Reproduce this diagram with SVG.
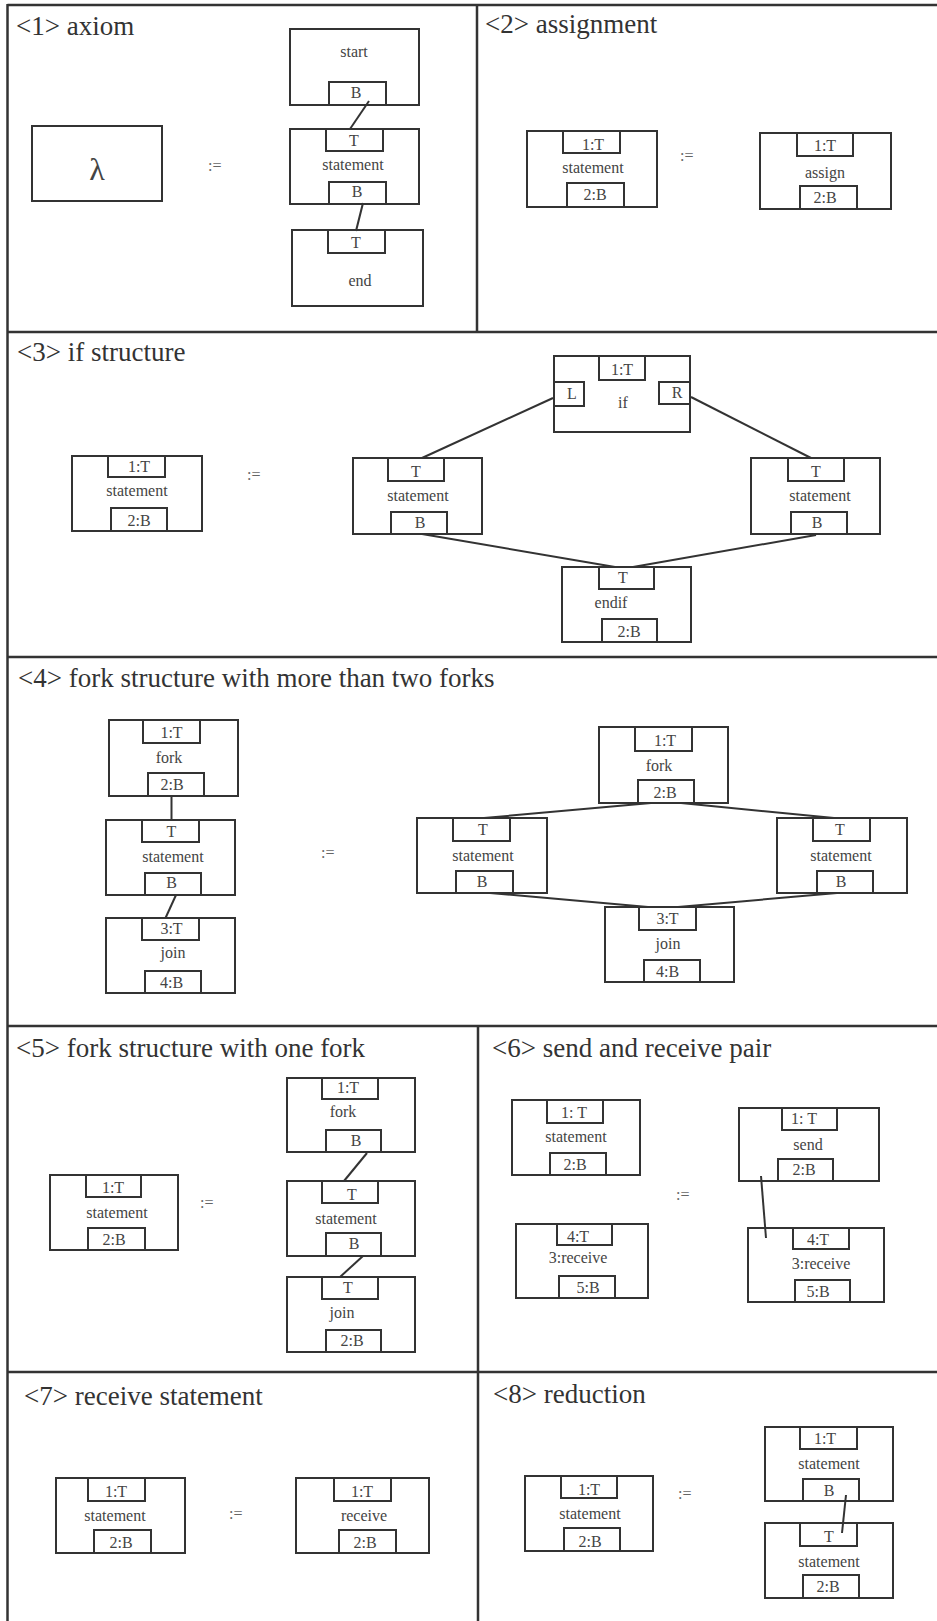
<svg xmlns="http://www.w3.org/2000/svg" width="937" height="1621" viewBox="0 0 937 1621">
<style>
.frame{stroke:#333;stroke-width:2.5;fill:none}
.box{fill:#fff;stroke:#333;stroke-width:2}
.port{fill:#fff;stroke:#333;stroke-width:2}
.lbl{font-family:"Liberation Serif","Times New Roman",serif;font-size:16px;fill:#444;text-anchor:middle}
.title{font-family:"Liberation Serif","Times New Roman",serif;font-size:27px;fill:#333}
.eq{font-family:"Liberation Serif","Times New Roman",serif;font-size:16px;fill:#666}
.conn{stroke:#333;stroke-width:2;fill:none}
</style>
<rect width="937" height="1621" fill="#fff"/>
<g id="frames">
<line class="frame" x1="7.5" y1="5" x2="937" y2="5"/>
<line class="frame" x1="7.5" y1="4" x2="7.5" y2="1621"/>
<line class="frame" x1="7.5" y1="332" x2="937" y2="332"/>
<line class="frame" x1="7.5" y1="657" x2="937" y2="657"/>
<line class="frame" x1="7.5" y1="1026" x2="937" y2="1026"/>
<line class="frame" x1="7.5" y1="1372" x2="937" y2="1372"/>
<line class="frame" x1="477" y1="5" x2="477" y2="332"/>
<line class="frame" x1="478" y1="1026" x2="478" y2="1621"/>
</g>
<g id="titles">
<text class="title" x="16" y="35">&lt;1&gt; axiom</text>
<text class="title" x="485" y="33">&lt;2&gt; assignment</text>
<text class="title" x="17" y="361">&lt;3&gt; if structure</text>
<text class="title" x="18" y="687">&lt;4&gt; fork structure with more than two forks</text>
<text class="title" x="16" y="1057">&lt;5&gt; fork structure with one fork</text>
<text class="title" x="492" y="1057">&lt;6&gt; send and receive pair</text>
<text class="title" x="24" y="1405">&lt;7&gt; receive statement</text>
<text class="title" x="493" y="1403">&lt;8&gt; reduction</text>
</g>
<g id="equals">
<text class="eq" x="208" y="171">:=</text>
<text class="eq" x="680" y="161">:=</text>
<text class="eq" x="247" y="480">:=</text>
<text class="eq" x="321" y="858">:=</text>
<text class="eq" x="200" y="1208">:=</text>
<text class="eq" x="676" y="1200">:=</text>
<text class="eq" x="229" y="1519">:=</text>
<text class="eq" x="678" y="1499">:=</text>
</g>
<!-- Section 1 -->
<g id="s1-lambda"><rect class="box" x="32" y="126" width="130" height="75"/><text class="lbl" x="97" y="180" style="font-size:32px">λ</text></g>
<g id="s1-start"><rect class="box" x="290" y="29" width="129" height="76"/><text class="lbl" x="354" y="57">start</text><rect class="port" x="329" y="82" width="57" height="23"/><text class="lbl" x="356" y="98">B</text></g>
<g id="s1-statement"><rect class="box" x="290" y="129" width="129" height="75"/><rect class="port" x="326" y="129" width="57" height="22"/><text class="lbl" x="354" y="146">T</text><text class="lbl" x="353" y="170">statement</text><rect class="port" x="329" y="182" width="57" height="22"/><text class="lbl" x="357" y="197">B</text></g>
<g id="s1-end"><rect class="box" x="292" y="230" width="131" height="76"/><rect class="port" x="328" y="230" width="57" height="23"/><text class="lbl" x="356" y="248">T</text><text class="lbl" x="360" y="286">end</text></g>
<!-- Section 2 -->
<g id="s2-statement"><rect class="box" x="527" y="131" width="130" height="76"/><rect class="port" x="563" y="131" width="57" height="22"/><text class="lbl" x="593" y="150">1:T</text><text class="lbl" x="593" y="173">statement</text><rect class="port" x="567" y="183" width="57" height="24"/><text class="lbl" x="595" y="200">2:B</text></g>
<g id="s2-assign"><rect class="box" x="760" y="133" width="131" height="76"/><rect class="port" x="797" y="133" width="56" height="23"/><text class="lbl" x="825" y="151">1:T</text><text class="lbl" x="825" y="178">assign</text><rect class="port" x="800" y="186" width="57" height="23"/><text class="lbl" x="825" y="203">2:B</text></g>
<!-- Section 3 -->
<g id="s3-statement"><rect class="box" x="72" y="456" width="130" height="75"/><rect class="port" x="108" y="456" width="57" height="21"/><text class="lbl" x="139" y="472">1:T</text><text class="lbl" x="137" y="496">statement</text><rect class="port" x="111" y="508" width="56" height="23"/><text class="lbl" x="139" y="526">2:B</text></g>
<g id="s3-if"><rect class="box" x="554" y="356" width="136" height="76"/><rect class="port" x="599" y="356" width="46" height="24"/><text class="lbl" x="622" y="375">1:T</text><rect class="port" x="554" y="382" width="30" height="24"/><text class="lbl" x="572" y="399">L</text><rect class="port" x="659" y="382" width="31" height="22"/><text class="lbl" x="677" y="398">R</text><text class="lbl" x="623" y="408">if</text></g>
<g id="s3-stmt-left"><rect class="box" x="353" y="458" width="129" height="76"/><rect class="port" x="388" y="458" width="56" height="23"/><text class="lbl" x="416" y="477">T</text><text class="lbl" x="418" y="501">statement</text><rect class="port" x="391" y="512" width="56" height="22"/><text class="lbl" x="420" y="528">B</text></g>
<g id="s3-stmt-right"><rect class="box" x="751" y="458" width="129" height="76"/><rect class="port" x="788" y="458" width="56" height="23"/><text class="lbl" x="816" y="477">T</text><text class="lbl" x="820" y="501">statement</text><rect class="port" x="791" y="512" width="56" height="22"/><text class="lbl" x="817" y="528">B</text></g>
<g id="s3-endif"><rect class="box" x="562" y="567" width="129" height="75"/><rect class="port" x="599" y="567" width="55" height="22"/><text class="lbl" x="623" y="583">T</text><text class="lbl" x="611" y="608">endif</text><rect class="port" x="602" y="619" width="55" height="23"/><text class="lbl" x="629" y="637">2:B</text></g>
<!-- Section 4 -->
<g id="s4-fork-l"><rect class="box" x="109" y="720" width="129" height="76"/><rect class="port" x="143" y="720" width="57" height="23"/><text class="lbl" x="171.5" y="738">1:T</text><text class="lbl" x="169" y="763">fork</text><rect class="port" x="148" y="773" width="56" height="23"/><text class="lbl" x="172" y="790">2:B</text></g>
<g id="s4-stmt-l"><rect class="box" x="106" y="820" width="129" height="75"/><rect class="port" x="142" y="820" width="57" height="22"/><text class="lbl" x="171.5" y="837">T</text><text class="lbl" x="173" y="862">statement</text><rect class="port" x="145" y="873" width="56" height="22"/><text class="lbl" x="171.5" y="888">B</text></g>
<g id="s4-join-l"><rect class="box" x="106" y="918" width="129" height="75"/><rect class="port" x="142" y="918" width="57" height="22"/><text class="lbl" x="171.5" y="934">3:T</text><text class="lbl" x="173" y="958">join</text><rect class="port" x="145" y="971" width="56" height="22"/><text class="lbl" x="171.5" y="988">4:B</text></g>
<g id="s4-fork-r"><rect class="box" x="599" y="727" width="129" height="76"/><rect class="port" x="635" y="727" width="57" height="24"/><text class="lbl" x="665" y="746">1:T</text><text class="lbl" x="659" y="771">fork</text><rect class="port" x="638" y="780" width="56" height="23"/><text class="lbl" x="665" y="798">2:B</text></g>
<g id="s4-stmt-rl"><rect class="box" x="417" y="818" width="130" height="75"/><rect class="port" x="453" y="818" width="57" height="23"/><text class="lbl" x="483" y="835">T</text><text class="lbl" x="483" y="861">statement</text><rect class="port" x="456" y="871" width="57" height="22"/><text class="lbl" x="482" y="887">B</text></g>
<g id="s4-stmt-rr"><rect class="box" x="777" y="818" width="130" height="75"/><rect class="port" x="813" y="818" width="57" height="23"/><text class="lbl" x="840" y="835">T</text><text class="lbl" x="841" y="861">statement</text><rect class="port" x="817" y="871" width="56" height="22"/><text class="lbl" x="841" y="887">B</text></g>
<g id="s4-join-r"><rect class="box" x="605" y="907" width="129" height="75"/><rect class="port" x="639" y="907" width="57" height="23"/><text class="lbl" x="667.5" y="924">3:T</text><text class="lbl" x="668" y="949">join</text><rect class="port" x="644" y="960" width="56" height="22"/><text class="lbl" x="667.5" y="977">4:B</text></g>
<!-- Section 5 -->
<g id="s5-statement"><rect class="box" x="50" y="1175" width="128" height="75"/><rect class="port" x="86" y="1175" width="55" height="22"/><text class="lbl" x="113" y="1193">1:T</text><text class="lbl" x="117" y="1218">statement</text><rect class="port" x="88" y="1228" width="57" height="22"/><text class="lbl" x="114" y="1245">2:B</text></g>
<g id="s5-fork"><rect class="box" x="287" y="1078" width="128" height="74"/><rect class="port" x="322" y="1078" width="56" height="21"/><text class="lbl" x="348" y="1093">1:T</text><text class="lbl" x="343" y="1117">fork</text><rect class="port" x="326" y="1130" width="55" height="22"/><text class="lbl" x="356" y="1146">B</text></g>
<g id="s5-stmt"><rect class="box" x="287" y="1181" width="128" height="75"/><rect class="port" x="322" y="1181" width="56" height="22"/><text class="lbl" x="352" y="1200">T</text><text class="lbl" x="346" y="1224">statement</text><rect class="port" x="326" y="1233" width="55" height="23"/><text class="lbl" x="354" y="1249">B</text></g>
<g id="s5-join"><rect class="box" x="287" y="1277" width="128" height="75"/><rect class="port" x="322" y="1277" width="56" height="22"/><text class="lbl" x="348" y="1293">T</text><text class="lbl" x="342" y="1318">join</text><rect class="port" x="326" y="1330" width="55" height="22"/><text class="lbl" x="352" y="1346">2:B</text></g>
<!-- Section 6 -->
<g id="s6-statement"><rect class="box" x="512" y="1100" width="128" height="75"/><rect class="port" x="547" y="1100" width="56" height="23"/><text class="lbl" x="574" y="1118">1: T</text><text class="lbl" x="576" y="1142">statement</text><rect class="port" x="550" y="1153" width="56" height="22"/><text class="lbl" x="575" y="1170">2:B</text></g>
<g id="s6-receive-l"><rect class="box" x="516" y="1224" width="132" height="74"/><rect class="port" x="557" y="1224" width="55" height="21"/><text class="lbl" x="578" y="1242">4:T</text><text class="lbl" x="578" y="1263">3:receive</text><rect class="port" x="559" y="1276" width="56" height="22"/><text class="lbl" x="588" y="1293">5:B</text></g>
<g id="s6-send"><rect class="box" x="739" y="1108" width="140" height="73"/><rect class="port" x="782" y="1108" width="55" height="22"/><text class="lbl" x="804" y="1124">1: T</text><text class="lbl" x="808" y="1150">send</text><rect class="port" x="778" y="1159" width="55" height="22"/><text class="lbl" x="804" y="1175">2:B</text></g>
<g id="s6-receive-r"><rect class="box" x="748" y="1228" width="136" height="74"/><rect class="port" x="793" y="1228" width="56" height="21"/><text class="lbl" x="818" y="1245">4:T</text><text class="lbl" x="821" y="1269">3:receive</text><rect class="port" x="795" y="1280" width="55" height="22"/><text class="lbl" x="818" y="1297">5:B</text></g>
<!-- Section 7 -->
<g id="s7-statement"><rect class="box" x="56" y="1478" width="129" height="75"/><rect class="port" x="88" y="1478" width="57" height="23"/><text class="lbl" x="116" y="1497">1:T</text><text class="lbl" x="115" y="1521">statement</text><rect class="port" x="94" y="1530" width="57" height="23"/><text class="lbl" x="121" y="1548">2:B</text></g>
<g id="s7-receive"><rect class="box" x="296" y="1478" width="133" height="75"/><rect class="port" x="334" y="1478" width="57" height="23"/><text class="lbl" x="362" y="1497">1:T</text><text class="lbl" x="364" y="1521">receive</text><rect class="port" x="339" y="1530" width="57" height="23"/><text class="lbl" x="365" y="1548">2:B</text></g>
<!-- Section 8 -->
<g id="s8-statement"><rect class="box" x="525" y="1476" width="128" height="75"/><rect class="port" x="561" y="1476" width="56" height="22"/><text class="lbl" x="589" y="1495">1:T</text><text class="lbl" x="590" y="1519">statement</text><rect class="port" x="564" y="1528" width="56" height="23"/><text class="lbl" x="590" y="1547">2:B</text></g>
<g id="s8-stmt-top"><rect class="box" x="765" y="1427" width="128" height="74"/><rect class="port" x="800" y="1427" width="57" height="22"/><text class="lbl" x="825" y="1444">1:T</text><text class="lbl" x="829" y="1469">statement</text><rect class="port" x="803" y="1479" width="56" height="22"/><text class="lbl" x="829" y="1496">B</text></g>
<g id="s8-stmt-bot"><rect class="box" x="765" y="1523" width="128" height="75"/><rect class="port" x="800" y="1523" width="57" height="23"/><text class="lbl" x="829" y="1542">T</text><text class="lbl" x="829" y="1567">statement</text><rect class="port" x="803" y="1575" width="56" height="23"/><text class="lbl" x="828" y="1592">2:B</text></g>
<g id="connectors">
<line class="conn" x1="369" y1="101" x2="350" y2="129"/>
<line class="conn" x1="363" y1="203" x2="356" y2="231"/>
<line class="conn" x1="553" y1="398" x2="422" y2="458"/>
<line class="conn" x1="691" y1="397" x2="811" y2="458"/>
<line class="conn" x1="422" y1="534" x2="615" y2="567"/>
<line class="conn" x1="816" y1="535" x2="633" y2="567"/>
<line class="conn" x1="171.5" y1="796" x2="171.5" y2="820"/>
<line class="conn" x1="176" y1="895" x2="165.5" y2="918"/>
<line class="conn" x1="651" y1="803" x2="484" y2="818"/>
<line class="conn" x1="681" y1="803" x2="834" y2="818"/>
<line class="conn" x1="490" y1="893" x2="648" y2="907"/>
<line class="conn" x1="837" y1="893" x2="678" y2="907"/>
<line class="conn" x1="367" y1="1153" x2="344" y2="1181"/>
<line class="conn" x1="363" y1="1256" x2="340" y2="1277"/>
<line class="conn" x1="761" y1="1176" x2="766" y2="1238"/>
<line class="conn" x1="846" y1="1495" x2="842" y2="1533"/>
</g>
</svg>
